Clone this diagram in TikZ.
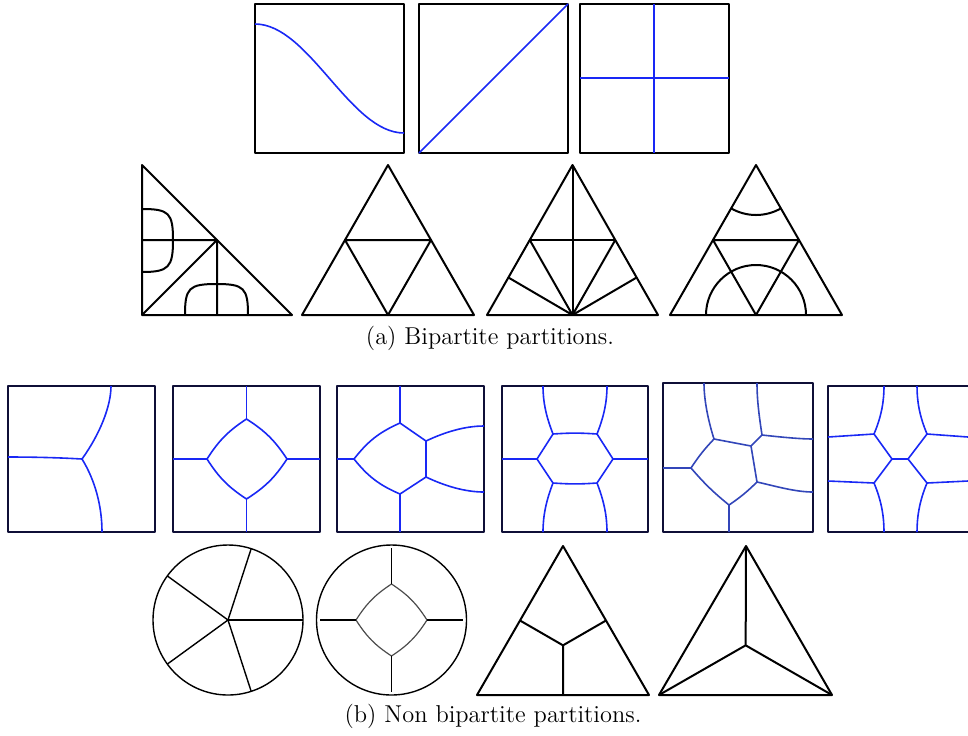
\documentclass[tikz,border=0pt]{standalone}
\usetikzlibrary{calc}
\definecolor{partblue}{RGB}{25,40,245}
\definecolor{dullblue}{RGB}{50,70,185}
\definecolor{framenavy}{RGB}{15,15,55}

\begin{document}
\begin{tikzpicture}[x=0.5pt, y=-0.5pt, line join=round]
\tikzset{sqframe/.style={draw, line width=0.9pt},
  bluecut/.style={draw=partblue, line width=0.8pt},
  wall/.style={draw, line width=1pt},
  ring/.style={draw, line width=0.7pt},
  caption/.style={font=\fontsize{12.2}{15}\selectfont}}
\useasboundingbox (0,0) rectangle (968,735);

% (a) bipartite: squares
\draw[sqframe] (255,4) rectangle (404,153);
\draw[bluecut] (255,24) .. controls (309,24) and (350,133) .. (404,133);
\draw[sqframe] (419,4) rectangle (568,153);
\draw[bluecut] (419,153) -- (568,4);
\draw[sqframe] (580,4) rectangle (729,153);
\draw[bluecut] (654,4) -- (654,153) (580,78) -- (729,78);

% (a) bipartite: triangles
\draw[wall] (142,165) -- (142,315) -- (292,315) -- cycle;
\draw[wall] (142,240) -- (217,240) -- (217,315) (142,315) -- (217,240);
\draw[wall] (142,209) .. controls (169,209) and (173,213) .. (173,240)
  .. controls (173,267) and (169,272) .. (142,272);
\draw[wall] (185,315) .. controls (185,288) and (189,284) .. (216.5,284)
  .. controls (244,284) and (248,288) .. (248,315);

\coordinate (t2a) at (388,165); \coordinate (t2l) at (302,315); \coordinate (t2r) at (474,315);
\draw[wall] (t2a) -- (t2l) -- (t2r) -- cycle;
\draw[wall] ($(t2a)!0.5!(t2l)$) -- ($(t2a)!0.5!(t2r)$) -- ($(t2l)!0.5!(t2r)$) -- cycle;

\coordinate (t3a) at (572.5,165); \coordinate (t3l) at (487,315); \coordinate (t3r) at (658,315);
\coordinate (t3b) at ($(t3l)!0.5!(t3r)$);
\draw[wall] (t3a) -- (t3l) -- (t3r) -- cycle;
\draw[wall] (t3a) -- (t3b) ($(t3a)!0.5!(t3l)$) -- ($(t3a)!0.5!(t3r)$);
\foreach \f in {0.5,0.75}{
  \draw[wall] (t3b) -- ($(t3a)!\f!(t3l)$);
  \draw[wall] (t3b) -- ($(t3a)!\f!(t3r)$);
}

\coordinate (t4a) at (756,165); \coordinate (t4l) at (670,315); \coordinate (t4r) at (842,315);
\coordinate (t4b) at ($(t4l)!0.5!(t4r)$);
\draw[wall] (t4a) -- (t4l) -- (t4r) -- cycle;
\draw[wall] ($(t4a)!0.5!(t4l)$) -- ($(t4a)!0.5!(t4r)$) -- (t4b) -- cycle;
\draw[wall] ([shift={(240:25pt)}]t4a) arc[start angle=240, end angle=300, radius=25pt];
\draw[wall] ([shift={(0:25pt)}]t4b) arc[start angle=0, end angle=180, radius=25pt];

\node[caption] (capa) at (490,338) {(a) Bipartite partitions.};

% (b) non bipartite: squares
\begin{scope}[sqframe/.append style={draw=framenavy}]
\draw[sqframe] (8,386) rectangle (155,532);
\draw[bluecut] (8,457) .. controls (40,457) and (65,458) .. (82,459);
\draw[bluecut] (82,459) .. controls (100,434) and (111,406) .. (111,386);
\draw[bluecut] (82,459) .. controls (95,480) and (102,506) .. (102,532);

\draw[sqframe] (173,386) rectangle (320,532);
\coordinate (d2t) at (246.5,419); \coordinate (d2r) at (287,459);
\coordinate (d2b) at (246.5,499); \coordinate (d2l) at (207,459);
\draw[bluecut] (d2t) to[bend left=12] (d2r) to[bend left=12] (d2b)
  to[bend left=12] (d2l) to[bend left=12] (d2t);
\draw[bluecut] (d2t) -- (246.5,386) (d2b) -- (246.5,532) (d2l) -- (173,459) (d2r) -- (320,459);

\draw[sqframe] (337,386) rectangle (484,532);
\coordinate (d3t) at (400,423); \coordinate (d3b) at (400,494); \coordinate (d3l) at (354,459);
\coordinate (d3p) at (426,441); \coordinate (d3q) at (426,477);
\draw[bluecut] (d3l) to[bend left=14] (d3t) -- (d3p) -- (d3q) -- (d3b) to[bend left=14] (d3l);
\draw[bluecut] (d3t) -- (400,386) (d3b) -- (400,532) (d3l) -- (337,459);
\draw[bluecut] (d3p) .. controls (445,432) and (465,426) .. (484,426);
\draw[bluecut] (d3q) .. controls (445,486) and (465,492) .. (484,492);

\draw[sqframe] (502,386) rectangle (648,532);
\coordinate (d4l) at (537,459); \coordinate (d4r) at (613,459);
\coordinate (d4a) at (553,434); \coordinate (d4b) at (597,434);
\coordinate (d4c) at (597,483); \coordinate (d4d) at (553,483);
\draw[bluecut] (d4l) -- (d4a) to[bend left=4] (d4b) -- (d4r) -- (d4c) to[bend left=4] (d4d) -- cycle;
\draw[bluecut] (d4l) -- (502,459) (d4r) -- (648,459);
\draw[bluecut] (d4a) .. controls (546,416) and (543,402) .. (543,386);
\draw[bluecut] (d4b) .. controls (604,416) and (607,402) .. (607,386);
\draw[bluecut] (d4d) .. controls (546,501) and (543,516) .. (543,532);
\draw[bluecut] (d4c) .. controls (604,501) and (607,516) .. (607,532);

\draw[sqframe] (663,383) rectangle (813,532);
\begin{scope}[bluecut/.append style={draw=dullblue}]
\coordinate (p1) at (714,439); \coordinate (p2) at (751,446); \coordinate (p3) at (762,435);
\coordinate (p4) at (757,482); \coordinate (p5) at (729,505); \coordinate (p6) at (691,468);
\draw[bluecut] (p6) to[bend left=5] (p1) -- (p2) -- (p4) to[bend left=5] (p5) to[bend left=5] (p6);
\draw[bluecut] (p2) -- (p3) (p5) -- (729,532) (p6) -- (663,468);
\draw[bluecut] (p1) .. controls (708,420) and (704,400) .. (704,383);
\draw[bluecut] (p3) .. controls (759,415) and (757,400) .. (757,383);
\draw[bluecut] (p3) .. controls (780,437) and (800,439) .. (813,439);
\draw[bluecut] (p4) .. controls (775,486) and (795,492) .. (813,492);
\end{scope}

\draw[sqframe] (968,386) -- (828,386) -- (828,532) -- (968,532);
\coordinate (q1) at (874,434); \coordinate (q2) at (892,459); \coordinate (q3) at (908,459);
\coordinate (q4) at (927,434); \coordinate (q5) at (874,483); \coordinate (q6) at (927,483);
\draw[bluecut] (q1) -- (q2) -- (q3) -- (q4) (q5) -- (q2) (q3) -- (q6);
\draw[bluecut] (q1) -- (828,437) (q5) -- (828,481) (q4) -- (968,437) (q6) -- (968,481);
\draw[bluecut] (q1) .. controls (882,415) and (884,400) .. (884,386);
\draw[bluecut] (q4) .. controls (919,415) and (917,400) .. (917,386);
\draw[bluecut] (q5) .. controls (882,502) and (884,518) .. (884,532);
\draw[bluecut] (q6) .. controls (919,502) and (917,518) .. (917,532);
\end{scope}

% (b) non bipartite: discs
\coordinate (c1) at (228,620);
\draw[ring] (c1) circle[radius=37.5pt];
\foreach \a in {0,72,...,288}
  \draw[ring] (c1) -- ++(\a:37.5pt);

\coordinate (c2) at (391.5,620);
\draw[ring] (c2) circle[radius=37.5pt];
\coordinate (e2t) at (391.5,584); \coordinate (e2r) at (427,620);
\coordinate (e2b) at (391.5,656); \coordinate (e2l) at (356,620);
\draw[ring, draw=black!70, line width=0.6pt] (e2t) to[bend left=12] (e2r) to[bend left=12] (e2b)
  to[bend left=12] (e2l) to[bend left=12] (e2t);
\draw[ring] (e2t) -- ++(90:18pt) (e2b) -- ++(270:18pt) (e2l) -- ++(180:18pt) (e2r) -- ++(0:18pt);

% (b) non bipartite: triangles
\coordinate (s1a) at (563,546); \coordinate (s1l) at (477,695); \coordinate (s1r) at (649,695);
\coordinate (s1c) at ($1/3*(s1a)+1/3*(s1l)+1/3*(s1r)$);
\draw[wall] (s1a) -- (s1l) -- (s1r) -- cycle;
\draw[wall] (s1c) -- ($(s1a)!0.5!(s1l)$) (s1c) -- ($(s1a)!0.5!(s1r)$) (s1c) -- ($(s1l)!0.5!(s1r)$);

\coordinate (s2a) at (746,546); \coordinate (s2l) at (659,695); \coordinate (s2r) at (832,695);
\coordinate (s2c) at ($1/3*(s2a)+1/3*(s2l)+1/3*(s2r)$);
\draw[wall] (s2a) -- (s2l) -- (s2r) -- cycle;
\draw[wall] (s2c) -- (s2a) (s2c) -- (s2l) (s2c) -- (s2r);

\node[caption] (capb) at (493,716) {(b) Non bipartite partitions.};
\end{tikzpicture}
\end{document}
